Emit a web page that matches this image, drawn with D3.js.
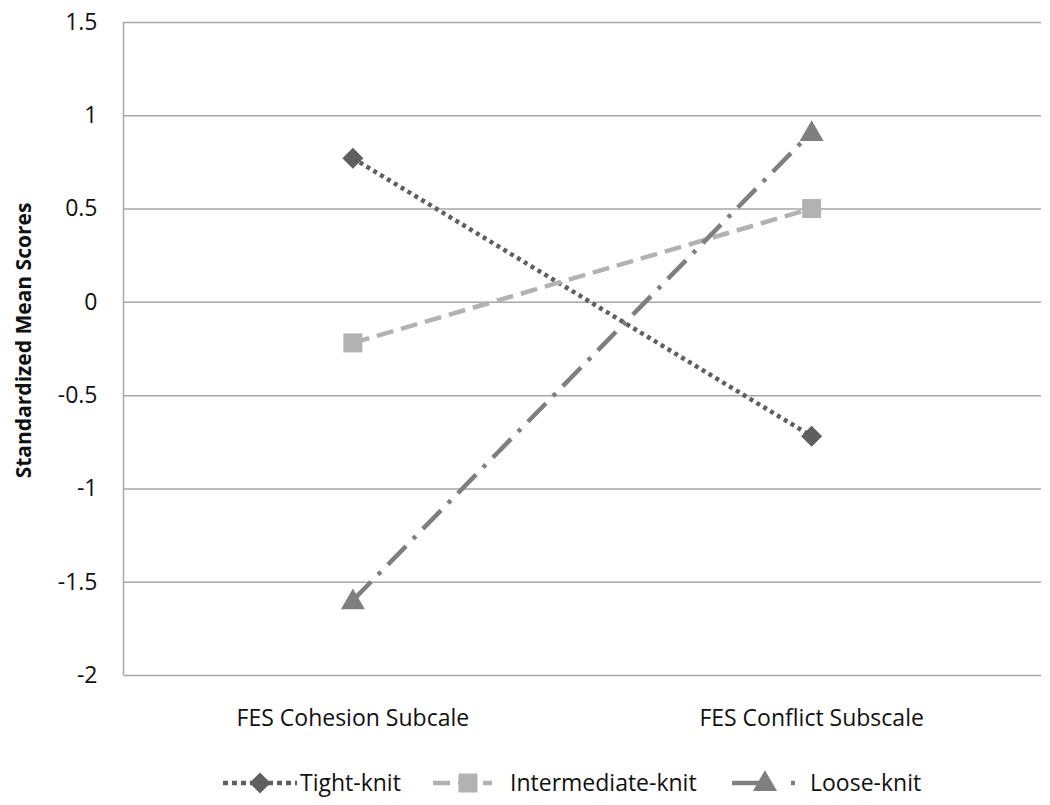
<!DOCTYPE html>
<html>
<head>
<meta charset="utf-8">
<script src="https://cdn.jsdelivr.net/npm/d3@7"></script>
<style>
  body { margin: 0; background: #fff; }
  text { font-family: "Open Sans", "Noto Sans", sans-serif; fill: #111; }
</style>
</head>
<body>
<div id="chart"></div>
<script>
// chart values
const categories = ["FES Cohesion Subcale", "FES Conflict Subscale"];
const seriesNames = ["Tight-knit", "Intermediate-knit", "Loose-knit"];
const tightValues = [0.77, -0.72];
const intermediateValues = [-0.22, 0.50];
const looseValues = [-1.60, 0.91];
const yTicks = [-2, -1.5, -1, -0.5, 0, 0.5, 1, 1.5];

const width = 1050, height = 805;
const margin = {top: 22, right: 9, bottom: 130, left: 123.5};

const svg = d3.select("#chart").append("svg")
  .attr("width", width)
  .attr("height", height);

const x = d3.scalePoint()
  .domain(categories)
  .range([margin.left, width - margin.right])
  .padding(0.5);

const y = d3.scaleLinear()
  .domain([-2, 1.5])
  .range([height - margin.bottom, margin.top]);

// gridlines + y labels (plain hyphen for negatives, like the original)
const yAxis = svg.append("g")
  .attr("transform", `translate(${margin.left},0)`)
  .call(d3.axisLeft(y).tickValues(yTicks)
    .tickSize(-(width - margin.right - margin.left))
    .tickPadding(26)
    .tickFormat(d => String(d)));
yAxis.select(".domain").remove();
yAxis.selectAll("line").attr("stroke", "#a6a6a6").attr("stroke-width", 1.5);
yAxis.selectAll("text").style("font-size", "23px").attr("fill", "#111");

// left axis line
svg.append("line")
  .attr("x1", margin.left).attr("x2", margin.left)
  .attr("y1", y(1.5)).attr("y2", y(-2))
  .attr("stroke", "#a6a6a6").attr("stroke-width", 1.5);

// category labels
svg.append("g").selectAll("text")
  .data(categories)
  .join("text")
  .attr("x", d => x(d))
  .attr("y", y(-2) + 51)
  .attr("text-anchor", "middle")
  .style("font-size", "23px")
  .text(d => d);

// y axis title
svg.append("text")
  .attr("transform", `translate(31,${(y(1.5) + y(-2)) / 2 - 8}) rotate(-90)`)
  .attr("text-anchor", "middle")
  .style("font-size", "21px")
  .style("font-weight", "bold")
  .text("Standardized Mean Scores");

const diamond = {
  draw(ctx, size) {
    const r = Math.sqrt(size / 2);
    ctx.moveTo(0, -r); ctx.lineTo(r, 0); ctx.lineTo(0, r); ctx.lineTo(-r, 0); ctx.closePath();
  }
};

const styles = [
  {name: seriesNames[0], values: tightValues, color: "#5f5f5f", dash: "4,4", marker: diamond, size: 220},
  {name: seriesNames[1], values: intermediateValues, color: "#b2b2b2", dash: "17,8", marker: d3.symbolSquare, size: 361},
  {name: seriesNames[2], values: looseValues, color: "#7f7f7f", dash: "26,10,4,10", marker: d3.symbolTriangle, size: 250}
];

const line = d3.line()
  .x((d, i) => x(categories[i]))
  .y(d => y(d));

styles.forEach(s => {
  svg.append("path")
    .datum(s.values)
    .attr("d", line)
    .attr("fill", "none")
    .attr("stroke", s.color)
    .attr("stroke-width", 4.5)
    .attr("stroke-dasharray", s.dash);
  svg.append("g").selectAll("path")
    .data(s.values)
    .join("path")
    .attr("d", d3.symbol().type(s.marker).size(s.size))
    .attr("transform", (d, i) => `translate(${x(categories[i])},${y(d) + (s.marker === d3.symbolTriangle ? 2 : 0)})`)
    .attr("fill", s.color);
});

// legend
const legendItems = [
  {x1: 223, x2: 297, mx: 260, tx: 300, dash: "5,4"},
  {x1: 433, x2: 492, mx: 468, tx: 510, dash: "17,8"},
  {x1: 732, x2: 796, mx: 765, tx: 810, dash: "36,23,4,40"}
];
const legend = svg.append("g");
styles.forEach((s, i) => {
  const it = legendItems[i];
  const g = legend.append("g").attr("transform", "translate(0,783)");
  g.append("line")
    .attr("x1", it.x1).attr("x2", it.x2)
    .attr("stroke", s.color).attr("stroke-width", 4.5)
    .attr("stroke-dasharray", it.dash);
  g.append("path")
    .attr("d", d3.symbol().type(s.marker).size(s.size))
    .attr("transform", `translate(${it.mx},${i === 2 ? 1 : 0})`)
    .attr("fill", s.color);
  g.append("text")
    .attr("x", it.tx)
    .attr("y", 8)
    .style("font-size", "23px")
    .text(s.name);
});
</script>
</body>
</html>
